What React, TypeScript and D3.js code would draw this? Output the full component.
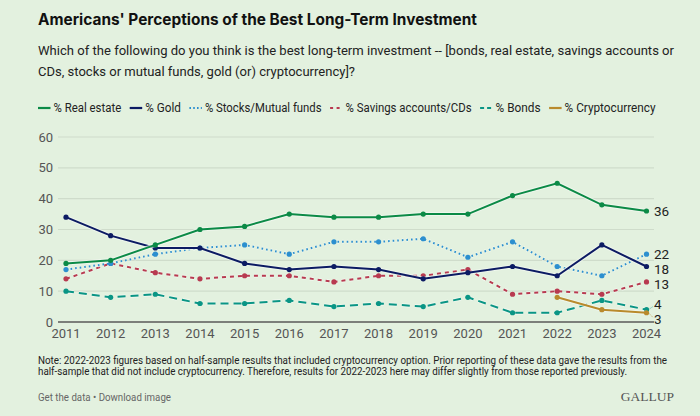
import React, { useEffect, useRef } from "react";
import * as d3 from "d3";

const years = [2011, 2012, 2013, 2014, 2015, 2016, 2017, 2018, 2019, 2020, 2021, 2022, 2023, 2024];
const realEstate = [19, 20, 25, 30, 31, 35, 34, 34, 35, 35, 41, 45, 38, 36];
const gold = [34, 28, 24, 24, 19, 17, 18, 17, 14, 16, 18, 15, 25, 18];
const stocks = [17, 19, 22, 24, 25, 22, 26, 26, 27, 21, 26, 18, 15, 22];
const savings = [14, 19, 16, 14, 15, 15, 13, 15, 15, 17, 9, 10, 9, 13];
const bonds = [10, 8, 9, 6, 6, 7, 5, 6, 5, 8, 3, 3, 7, 4];
const cryptoYears = [2022, 2023, 2024];
const crypto = [8, 4, 3];
const seriesNames = ["% Real estate", "% Gold", "% Stocks/Mutual funds", "% Savings accounts/CDs", "% Bonds", "% Cryptocurrency"];
const yTicks = [0, 10, 20, 30, 40, 50, 60];

const title = "Americans' Perceptions of the Best Long-Term Investment";
const subtitle1 = "Which of the following do you think is the best long-term investment -- [bonds, real estate, savings accounts or";
const subtitle2 = "CDs, stocks or mutual funds, gold (or) cryptocurrency]?";
const note1 = "Note: 2022-2023 figures based on half-sample results that included cryptocurrency option. Prior reporting of these data gave the results from the";
const note2 = "half-sample that did not include cryptocurrency. Therefore, results for 2022-2023 here may differ slightly from those reported previously.";

const FONT = "Roboto, 'Liberation Sans', sans-serif";
const TFONT = "Inter, Roboto, sans-serif";

export default function App() {
  const ref = useRef<SVGSVGElement>(null);

  useEffect(() => {
    const svg = d3.select(ref.current);
    svg.selectAll("*").remove();
    const W = 700, H = 416;
    svg.append("rect").attr("width", W).attr("height", H).attr("fill", "#e3f1df");

    const fitText = (sel: any, width: number) => {
      sel.attr("textLength", width).attr("lengthAdjust", "spacingAndGlyphs");
      return sel;
    };

    // Titles
    fitText(svg.append("text").attr("x", 38).attr("y", 25).attr("font-family", TFONT).attr("font-weight", 700)
      .attr("font-size", 15.5).attr("fill", "#111").text(title), 439);
    fitText(svg.append("text").attr("x", 38).attr("y", 55).attr("font-family", FONT)
      .attr("font-size", 13).attr("fill", "#222").text(subtitle1), 636);
    fitText(svg.append("text").attr("x", 38).attr("y", 76).attr("font-family", FONT)
      .attr("font-size", 13).attr("fill", "#222").text(subtitle2), 317);

    const series = [
      { name: seriesNames[0], xs: years, vs: realEstate, color: "#0b8a46", dash: null as string | null, width: 2 },
      { name: seriesNames[1], xs: years, vs: gold, color: "#0c1b63", dash: null, width: 2 },
      { name: seriesNames[2], xs: years, vs: stocks, color: "#2c8fcf", dash: "1.6,3", width: 2 },
      { name: seriesNames[3], xs: years, vs: savings, color: "#b83a50", dash: "4,4", width: 2 },
      { name: seriesNames[4], xs: years, vs: bonds, color: "#0a9585", dash: "8,5", width: 2 },
      { name: seriesNames[5], xs: cryptoYears, vs: crypto, color: "#b98a2c", dash: null, width: 2 },
    ];
    const legendSampleDash = [null, null, "1.6,2.2", "3,3.5", "4,3", null];
    const legendTextWidths = [67.7, 35.7, 116.7, 126, 45, 91];

    // Legend
    const lg = svg.append("g").attr("font-family", FONT).attr("font-size", 12).attr("fill", "#222");
    let lx = 38;
    const ly = 108;
    series.forEach((s, i) => {
      lg.append("line").attr("x1", lx).attr("x2", lx + 12.5).attr("y1", ly).attr("y2", ly)
        .attr("stroke", s.color).attr("stroke-width", 2.2)
        .attr("stroke-dasharray", legendSampleDash[i]);
      fitText(lg.append("text").attr("x", lx + 15.5).attr("y", ly + 4.2).text(s.name), legendTextWidths[i]);
      lx = lx + 15.5 + legendTextWidths[i] + 8.5;
    });

    // Scales
    const x = d3.scaleLinear().domain([2011, 2024]).range([66, 646.5]);
    const y = d3.scaleLinear().domain([0, 60]).range([322, 137]);

    const grid = svg.append("g");
    yTicks.forEach((t) => {
      if (t > 0) {
        grid.append("line").attr("x1", 58).attr("x2", 654).attr("y1", y(t)).attr("y2", y(t))
          .attr("stroke", "#cfdccb").attr("stroke-width", 1.2);
      }
      grid.append("text").attr("x", 53).attr("y", y(t) + 4.5).attr("text-anchor", "end")
        .attr("font-family", FONT).attr("font-size", 13).attr("fill", "#555").text(String(t));
    });
    svg.append("line").attr("x1", 58).attr("x2", 654).attr("y1", y(0)).attr("y2", y(0))
      .attr("stroke", "#7c7f7a").attr("stroke-width", 2);
    years.forEach((yr) => {
      svg.append("text").attr("x", x(yr)).attr("y", 337.5).attr("text-anchor", "middle")
        .attr("font-family", FONT).attr("font-size", 13).attr("fill", "#555").text(String(yr));
    });

    const line = d3.line<[number, number]>().x((d) => x(d[0])).y((d) => y(d[1]));
    const order = [4, 3, 2, 1, 0, 5];
    order.forEach((i) => {
      const s = series[i];
      const pts = s.xs.map((xx, j) => [xx, s.vs[j]] as [number, number]);
      svg.append("path").attr("d", line(pts)).attr("fill", "none").attr("stroke", "#f4faf2")
        .attr("stroke-width", s.width + 2).attr("stroke-opacity", 0.7)
        .attr("stroke-dasharray", s.dash);
      svg.append("path").attr("d", line(pts)).attr("fill", "none").attr("stroke", s.color)
        .attr("stroke-width", s.width).attr("stroke-dasharray", s.dash);
      svg.append("g").selectAll("circle").data(pts).join("circle")
        .attr("cx", (d) => x(d[0])).attr("cy", (d) => y(d[1])).attr("r", 2.6).attr("fill", s.color);
    });

    // End labels with collision avoidance
    const labels = series.map((s) => {
      const v = s.vs[s.vs.length - 1];
      return { v, y0: y(v), y: y(v), color: s.color };
    }).sort((a, b) => a.y0 - b.y0);
    const gap = 15;
    for (let i = 1; i < labels.length; i++) {
      if (labels[i].y - labels[i - 1].y < gap) labels[i].y = labels[i - 1].y + gap;
    }
    const maxY = 319.5;
    if (labels[labels.length - 1].y > maxY) labels[labels.length - 1].y = maxY;
    for (let i = labels.length - 2; i >= 0; i--) {
      if (labels[i + 1].y - labels[i].y < gap) labels[i].y = labels[i + 1].y - gap;
    }
    labels.forEach((l) => {
      if (Math.abs(l.y - l.y0) > 4) {
        svg.append("line").attr("x1", x(2024) + 2).attr("y1", l.y0).attr("x2", 653).attr("y2", l.y + (l.y > l.y0 ? -2 : 2))
          .attr("stroke", l.color).attr("stroke-width", 1).attr("stroke-dasharray", "1,1.5").attr("opacity", 0.8);
      }
      svg.append("text").attr("x", 654).attr("y", l.y + 4.6).attr("font-family", FONT)
        .attr("font-size", 13.5).attr("fill", "#222").text(String(l.v));
    });

    // Footer
    fitText(svg.append("text").attr("x", 38).attr("y", 364).attr("font-family", FONT).attr("font-size", 10)
      .attr("fill", "#222").text(note1), 629);
    fitText(svg.append("text").attr("x", 38).attr("y", 375).attr("font-family", FONT).attr("font-size", 10)
      .attr("fill", "#222").text(note2), 589);
    fitText(svg.append("text").attr("x", 38).attr("y", 400.5).attr("font-family", FONT).attr("font-size", 11.5)
      .attr("fill", "#666").text("Get the data \u2022 Download image"), 133);
    svg.append("text").attr("x", 674).attr("y", 400.5).attr("text-anchor", "end")
      .attr("font-family", "'Liberation Serif', 'DejaVu Serif', serif").attr("font-size", 13.5)
      .attr("fill", "#555").text("GALLUP");
  }, []);

  return (
    <div style={{ position: "fixed", left: 0, top: 0, width: 700, height: 416 }}>
      <svg ref={ref} width={700} height={416} style={{ display: "block" }} />
    </div>
  );
}
